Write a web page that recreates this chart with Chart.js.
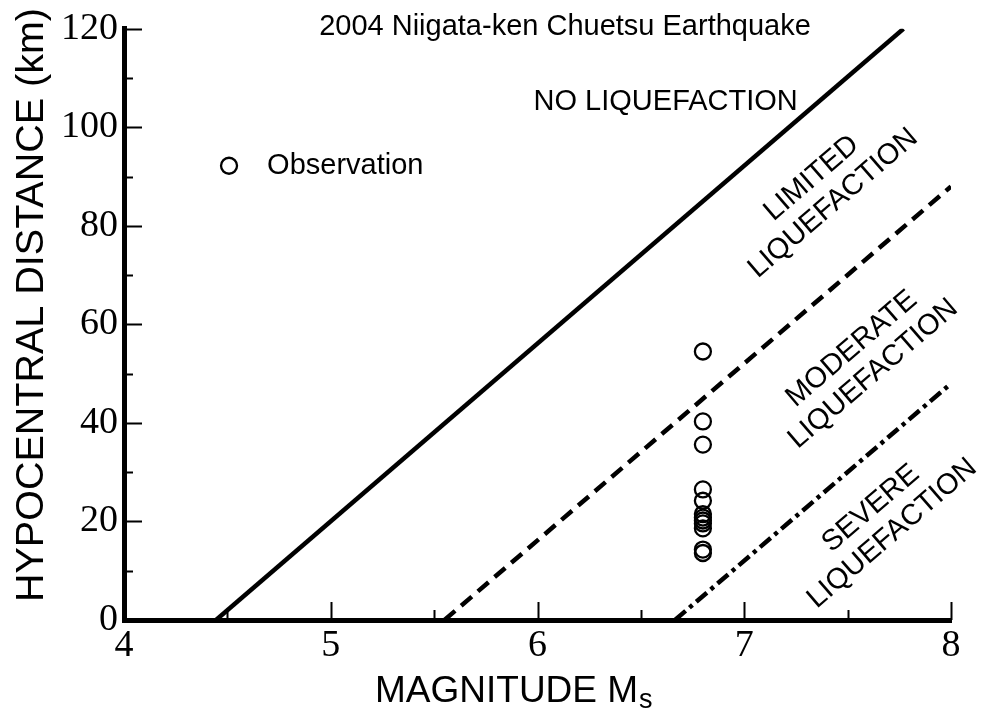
<!DOCTYPE html>
<html lang="en">
<head>
<meta charset="UTF-8">
<title>2004 Niigata-ken Chuetsu Earthquake</title>
<script src="https://cdn.jsdelivr.net/npm/chart.js@4.4.1/dist/chart.umd.min.js"></script>
<style>
  body { margin: 0; background: #fff; }
  #wrap { width: 985px; height: 712px; }
</style>
</head>
<body>
<div id="wrap"><canvas id="chart" width="985" height="712"></canvas></div>
<script>
// ---- data ----
const chartTitle = '2004 Niigata-ken Chuetsu Earthquake';
const xTitle = 'MAGNITUDE M';
const xTitleSub = 's';
const yTitle = 'HYPOCENTRAL DISTANCE (km)';

// boundary lines (magnitude, distance)
const limitedX = [4.445, 7.77];
const limitedY = [0, 120];
const moderateX = [5.55, 8];
const moderateY = [0, 88];
const severeX = [6.665, 8];
const severeY = [0, 48];

// observations
const obsMagnitude = [6.8, 6.8, 6.8, 6.8, 6.8, 6.8, 6.8, 6.8, 6.8, 6.8, 6.8, 6.8];
const obsDistance = [54.5, 40.3, 35.6, 26.5, 24.2, 21.5, 20.8, 20.2, 19.6, 18.6, 14.3, 13.6];

// zone labels, anchored in data units
const zoneText = [['NO LIQUEFACTION'], ['LIMITED', 'LIQUEFACTION'], ['MODERATE', 'LIQUEFACTION'], ['SEVERE', 'LIQUEFACTION']];
const zoneX = [6.62, 7.378, 7.572, 7.664];
const zoneY = [105.2, 87.1, 52.5, 20.1];
const zoneTilted = [false, true, true, true];

const legendLabel = 'Observation';
const legendX = [4.508, 4.692];
const legendY = 92.2;

const SANS = "'Liberation Sans', Arial, Helvetica, sans-serif";
const SERIF = "'Liberation Serif', 'Times New Roman', serif";

function pts(xs, ys) {
  return xs.map((x, i) => ({ x: x, y: ys[i] }));
}

// inward tick marks, titles and labels
const decorations = {
  id: 'decorations',
  afterDraw(chart) {
    const ctx = chart.ctx;
    const xs = chart.scales.x, ys = chart.scales.y;
    const area = chart.chartArea;
    ctx.save();
    ctx.strokeStyle = '#000';
    ctx.lineWidth = 2;
    ctx.beginPath();
    for (let v = xs.min; v <= xs.max + 1e-9; v += 0.5) {
      const px = Math.round(xs.getPixelForValue(v)) + 0.5;
      const len = Number.isInteger(v) ? 18 : 10;
      ctx.moveTo(px, area.bottom);
      ctx.lineTo(px, area.bottom - len);
    }
    for (let v = ys.min; v <= ys.max + 1e-9; v += 10) {
      const py = Math.round(ys.getPixelForValue(v)) + 0.5;
      const len = v % 20 === 0 ? 18 : 9;
      ctx.moveTo(area.left, py);
      ctx.lineTo(area.left + len, py);
    }
    ctx.stroke();

    ctx.fillStyle = '#000';
    // chart title
    ctx.font = '29px ' + SANS;
    ctx.textAlign = 'center';
    ctx.textBaseline = 'alphabetic';
    ctx.fillText(chartTitle, area.left + 441, 35);

    // y title
    ctx.save();
    ctx.translate(43, 305);
    ctx.rotate(-Math.PI / 2);
    ctx.font = '39.5px ' + SANS;
    ctx.textAlign = 'center';
    ctx.fillText(yTitle, 0, 0);
    ctx.restore();

    // x title with subscript
    ctx.textAlign = 'left';
    ctx.font = '37px ' + SANS;
    const x0 = area.left + 251;
    ctx.fillText(xTitle, x0, 702);
    const w = ctx.measureText(xTitle).width;
    ctx.font = '27px ' + SANS;
    ctx.fillText(xTitleSub, x0 + w + 1, 708);

    // zone labels
    const ang = Math.atan2(
      ys.getPixelForValue(limitedY[1]) - ys.getPixelForValue(limitedY[0]),
      xs.getPixelForValue(limitedX[1]) - xs.getPixelForValue(limitedX[0]));
    ctx.font = '29px ' + SANS;
    ctx.textAlign = 'center';
    ctx.textBaseline = 'middle';
    zoneText.forEach((lines, i) => {
      ctx.save();
      ctx.translate(xs.getPixelForValue(zoneX[i]), ys.getPixelForValue(zoneY[i]));
      if (zoneTilted[i]) ctx.rotate(ang);
      const lh = 33;
      lines.forEach((t, j) => {
        ctx.fillText(t, 0, (j - (lines.length - 1) / 2) * lh);
      });
      ctx.restore();
    });

    // legend
    ctx.beginPath();
    ctx.arc(xs.getPixelForValue(legendX[0]), ys.getPixelForValue(legendY), 8, 0, Math.PI * 2);
    ctx.lineWidth = 2.3;
    ctx.stroke();
    ctx.textAlign = 'left';
    ctx.fillText(legendLabel, xs.getPixelForValue(legendX[1]), ys.getPixelForValue(legendY));
    ctx.restore();
  }
};

new Chart(document.getElementById('chart'), {
  type: 'scatter',
  data: {
    datasets: [
      {
        type: 'line', data: pts(limitedX, limitedY),
        borderColor: '#000', borderWidth: 4.5, pointRadius: 0, fill: false
      },
      {
        type: 'line', data: pts(moderateX, moderateY),
        borderColor: '#000', borderWidth: 4.5, borderDash: [14, 8], pointRadius: 0, fill: false
      },
      {
        type: 'line', data: pts(severeX, severeY),
        borderColor: '#000', borderWidth: 4.5, borderDash: [14, 5, 4, 5], pointRadius: 0, fill: false
      },
      {
        label: legendLabel,
        data: pts(obsMagnitude, obsDistance),
        pointStyle: 'circle', pointRadius: 8, pointBorderWidth: 2.3,
        borderColor: '#000', backgroundColor: 'rgba(0,0,0,0)'
      }
    ]
  },
  options: {
    responsive: false,
    animation: false,
    layout: { padding: { top: 28, right: 34, left: 0, bottom: 0 } },
    plugins: { legend: { display: false }, tooltip: { enabled: false } },
    scales: {
      x: {
        type: 'linear', min: 4, max: 8,
        grid: { display: false, drawTicks: false },
        border: { display: true, color: '#000', width: 5 },
        ticks: {
          stepSize: 1, color: '#000', padding: 3,
          font: { family: SERIF, size: 38 },
          callback: v => xTicksLabel(v)
        },
        afterFit: s => { s.height = 92; }
      },
      y: {
        type: 'linear', min: 0, max: 120,
        grid: { display: false, drawTicks: false },
        border: { display: true, color: '#000', width: 5 },
        ticks: {
          stepSize: 20, color: '#000', padding: 6,
          font: { family: SERIF, size: 38 }
        },
        afterFit: s => { s.width = 124; }
      }
    }
  },
  plugins: [decorations]
});

function xTicksLabel(v) {
  return Number.isInteger(v) ? String(v) : '';
}
</script>
</body>
</html>
